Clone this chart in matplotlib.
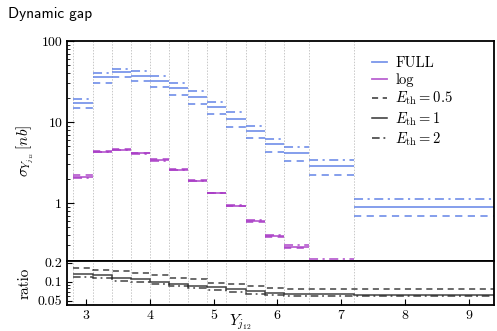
import matplotlib
matplotlib.use("Agg")
import matplotlib.pyplot as plt
from matplotlib.lines import Line2D
from matplotlib.ticker import NullFormatter

plt.rcParams['font.family'] = 'serif'
plt.rcParams['font.serif'] = ['cmr10', 'DejaVu Serif']
plt.rcParams['mathtext.fontset'] = 'cm'
plt.rcParams['axes.formatter.use_mathtext'] = True

# bin edges in Y_j12
edges = [2.8, 3.1, 3.4, 3.7, 4.0, 4.3, 4.6, 4.9, 5.2, 5.5, 5.8, 6.1, 6.5, 7.2, 9.4]

# FULL cross sections [nb]
full_05 = [14.8, 30.6, 35.6, 31.8, 27.0, 21.8, 16.9, 12.6, 8.8, 6.3, 4.26, 3.30, 2.22, 0.69]
full_1 = [17.0, 35.6, 41.4, 37.3, 32.4, 26.3, 20.2, 15.2, 10.9, 7.8, 5.3, 4.16, 2.83, 0.90]
full_2 = [19.2, 40.6, 45.5, 43.0, 37.0, 30.3, 23.9, 17.8, 13.3, 9.0, 6.2, 4.9, 3.40, 1.11]

# log cross sections [nb]
log_05 = [2.20, 4.40, 4.70, 4.20, 3.45, 2.60, 1.90, 1.33, 0.92, 0.59, 0.38, 0.28, 0.17, 0.053]
log_1 = [2.09, 4.30, 4.55, 4.10, 3.40, 2.55, 1.87, 1.32, 0.92, 0.60, 0.39, 0.29, 0.18, 0.056]
log_2 = [2.05, 4.25, 4.50, 4.05, 3.35, 2.55, 1.88, 1.34, 0.94, 0.62, 0.40, 0.30, 0.205, 0.065]

# ratio log / FULL
ratio_05 = [0.164, 0.154, 0.147, 0.136, 0.128, 0.116, 0.112, 0.095, 0.093, 0.087, 0.080, 0.078, 0.078, 0.077]
ratio_1 = [0.135, 0.128, 0.117, 0.112, 0.100, 0.092, 0.085, 0.083, 0.076, 0.071, 0.066, 0.064, 0.064, 0.062]
ratio_2 = [0.119, 0.114, 0.105, 0.099, 0.093, 0.085, 0.079, 0.074, 0.069, 0.065, 0.062, 0.060, 0.059, 0.059]

blue = '#5a7de6'
purple = '#a93cc6'
dashed = (0, (4, 3))
dashdot = (0, (5, 2.5, 1.2, 2.5))

fig = plt.figure(figsize=(4.97, 3.31), dpi=100)
ax = fig.add_axes([0.135, 0.210, 0.859, 0.666])
axr = fig.add_axes([0.135, 0.0785, 0.859, 0.1315], sharex=ax)

lo, hi = edges[:-1], edges[1:]

for vals, ls in [(full_05, dashed), (full_1, '-'), (full_2, dashdot)]:
    ax.hlines(vals, lo, hi, colors=blue, linestyles=ls, lw=1.3, alpha=0.8)
for vals, ls in [(log_05, dashed), (log_1, '-'), (log_2, dashdot)]:
    ax.hlines(vals, lo, hi, colors=purple, linestyles=ls, lw=1.3, alpha=0.8)

for vals, ls in [(ratio_05, dashed), (ratio_1, '-'), (ratio_2, dashdot)]:
    axr.stairs(vals, edges, baseline=None, color='#222222', linestyle=ls, lw=1.1, alpha=0.85)

for a in (ax, axr):
    for e in edges:
        a.axvline(e, color='#c8c8c8', ls=(0, (1.5, 1.5)), lw=0.7, zorder=0)
    for s in a.spines.values():
        s.set_linewidth(1.3)
    a.tick_params(which='both', direction='in', labelsize=10)

ax.set_yscale('log')
ax.set_ylim(0.19, 100)
ax.set_xlim(2.7, 9.4)
ax.set_yticks([1, 10, 100])
ax.set_yticklabels(['1', '10', '100'])
ax.yaxis.set_minor_formatter(NullFormatter())
ax.tick_params(axis='x', which='both', bottom=False, labelbottom=False)
ax.tick_params(axis='y', which='major', length=5)
ax.tick_params(axis='y', which='minor', length=2.5)
ax.set_ylabel(r'$\sigma_{Y_{j_{12}}}\,[nb]$', fontsize=11)

axr.set_yscale('log')
axr.set_ylim(0.043, 0.21)
axr.set_yticks([0.05, 0.1, 0.2])
axr.set_yticklabels(['0.05', '0.1', '0.2'])
axr.yaxis.set_minor_formatter(NullFormatter())
axr.set_xticks([3, 4, 5, 6, 7, 8, 9])
axr.set_xticklabels(['3', '4', '5', '6', '7', '8', '9'])
axr.tick_params(axis='x', which='major', length=4)
axr.tick_params(axis='y', which='minor', length=2)
axr.set_ylabel('ratio', fontsize=11)
axr.set_xlabel(r'$Y_{j_{12}}$', fontsize=11)
axr.xaxis.set_label_coords(0.405, -0.17)

handles = [
    Line2D([], [], color=blue, lw=1.3, alpha=0.8),
    Line2D([], [], color=purple, lw=1.3, alpha=0.8),
    Line2D([], [], color='#333333', lw=1.1, ls=dashed),
    Line2D([], [], color='#333333', lw=1.1),
    Line2D([], [], color='#333333', lw=1.1, ls=dashdot),
]
labels = ['FULL', 'log', r'$E_{\rm th} = 0.5$', r'$E_{\rm th} = 1$', r'$E_{\rm th} = 2$']
ax.legend(handles, labels, loc='upper right', bbox_to_anchor=(0.935, 0.99),
          frameon=False, fontsize=10.5, handlelength=1.0, handletextpad=0.6,
          labelspacing=0.2)

fig.text(0.016, 0.945, 'Dynamic gap', fontsize=11, family='cmss10')

fig.savefig('out.png', dpi=100)
